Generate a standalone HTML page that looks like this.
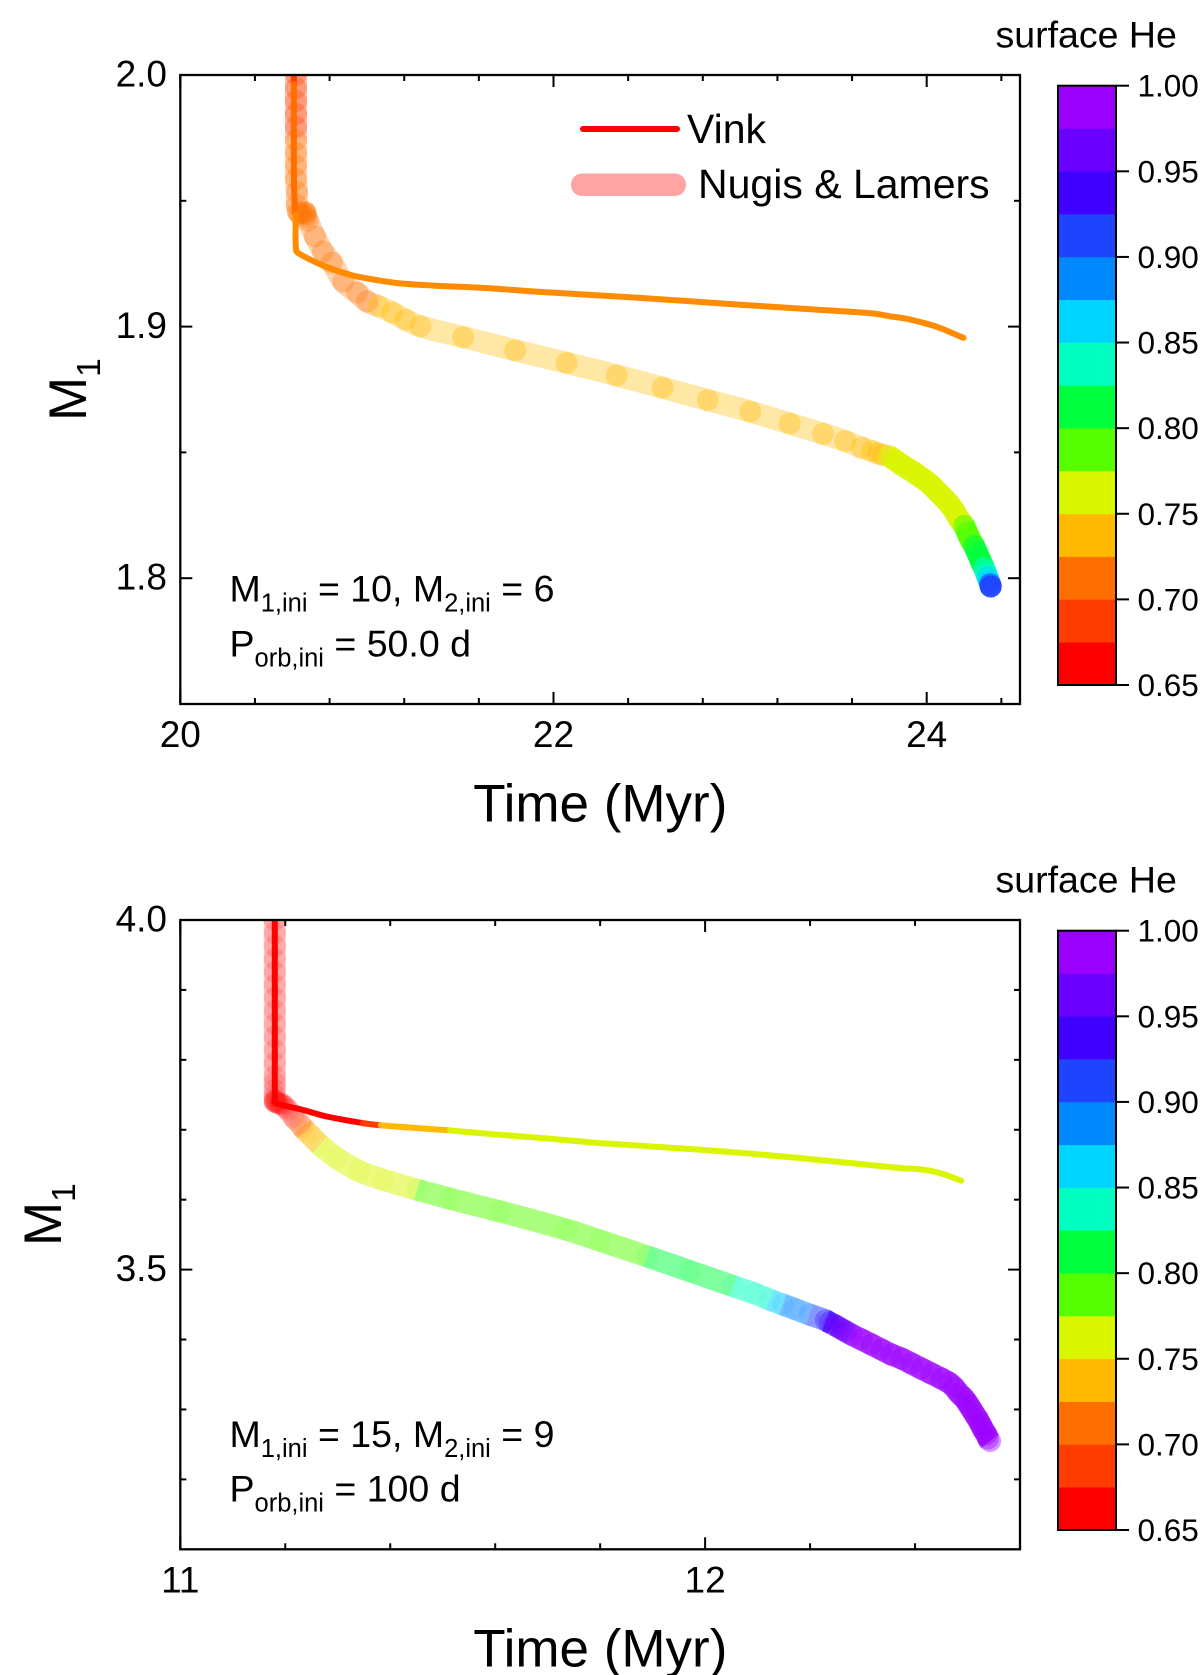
<!DOCTYPE html>
<html lang="en">
<head>
<meta charset="utf-8">
<title>Surface helium tracks</title>
<style>
html,body{margin:0;padding:0;background:#fff;}
svg{display:block;font-family:"Liberation Sans",Arial,sans-serif;fill:#000;}
</style>
</head>
<body>
<svg id="figure" xmlns="http://www.w3.org/2000/svg" width="1200" height="1675" viewBox="0 0 1200 1675">
  <defs>
    <clipPath id="clip-a"><rect x="180.3" y="75" width="839.7" height="629"/></clipPath>
    <clipPath id="clip-b"><rect x="180.3" y="920" width="839.7" height="629.3"/></clipPath>
  </defs>
  <rect width="1200" height="1675" fill="#fff"/>
  <g id="panel-a"></g>
  <g id="panel-b"></g>

  <g>
    <line x1="583" y1="129" x2="677" y2="129" stroke="#ff0000" stroke-width="6" stroke-linecap="round"/>
    <text x="687" y="143" font-size="41">Vink</text>
    <rect x="571" y="173.5" width="115" height="22.5" rx="11" fill="#ffa3a3"/>
    <text x="698" y="198" font-size="41">Nugis &amp; Lamers</text>
  </g>

  <text x="229.5" y="601.7" font-size="37.5">M<tspan dy="10" font-size="25.5">1,ini</tspan><tspan dy="-10"> = 10, M</tspan><tspan dy="10" font-size="25.5">2,ini</tspan><tspan dy="-10"> = 6</tspan></text>
  <text x="229.5" y="656.7" font-size="37.5">P<tspan dy="10" font-size="25.5">orb,ini</tspan><tspan dy="-10"> = 50.0 d</tspan></text>
  <text x="229.5" y="1447" font-size="37.5">M<tspan dy="10" font-size="25.5">1,ini</tspan><tspan dy="-10"> = 15, M</tspan><tspan dy="10" font-size="25.5">2,ini</tspan><tspan dy="-10"> = 9</tspan></text>
  <text x="229.5" y="1501.5" font-size="37.5">P<tspan dy="10" font-size="25.5">orb,ini</tspan><tspan dy="-10"> = 100 d</tspan></text>

  <text x="600.3" y="821.7" font-size="53" text-anchor="middle">Time (Myr)</text>
  <text x="600.3" y="1666.7" font-size="53" text-anchor="middle">Time (Myr)</text>
  <text transform="translate(86,421) rotate(-90)" font-size="53">M<tspan dy="14" font-size="33.5">1</tspan></text>
  <text transform="translate(61,1246) rotate(-90)" font-size="53">M<tspan dy="14" font-size="33.5">1</tspan></text>
  <text x="995.5" y="47.7" font-size="37.5">surface He</text>
  <text x="995.5" y="892.7" font-size="37.5">surface He</text>
</svg>

<script>
// Colour scale
const colorbarColors = ['#ff0000','#ff3d00','#ff6f00','#ffba00','#d9f500','#55ff00','#00ff3c','#00ffc0','#00d5ff','#0088ff','#1f44ff','#3f00ff','#6a00ff','#9a00ff'];
const colorbarTicks = [0.65,0.70,0.75,0.80,0.85,0.90,0.95,1.00];
const colorbarTickLabels = ['0.65','0.70','0.75','0.80','0.85','0.90','0.95','1.00'];

// Top panel axes
const topXMajor = [20,22,24];
const topXMajorLabels = ['20','22','24'];
const topXMinor = [20.4,20.8,21.2,21.6,22.4,22.8,23.2,23.6,24.4];
const topYMajor = [2.0,1.9,1.8];
const topYMajorLabels = ['2.0','1.9','1.8'];
const topYMinor = [1.95,1.85];

// Top panel Vink track
const topVinkTime = [20.609,20.609,20.609,20.615,
  20.618,20.620,20.636,20.767,20.910,21.018,21.162,21.357,21.624,21.928,22.464,23.000,23.357,23.714,23.803,23.893,23.982,24.071,24.197];
const topVinkMass = [2.0,1.9964,1.9600,1.9452,
  1.9444,1.9306,1.9290,1.9242,1.9206,1.9189,1.9173,1.9163,1.9154,1.9138,1.9114,1.9087,1.9070,1.9052,1.9041,1.9031,1.9015,1.8995,1.8955];
const topVinkHe = [0.69,0.705,0.705,0.705,
  0.72,0.72,0.72,0.72,0.72,0.72,0.72,0.72,0.72,0.72,0.72,0.72,0.72,0.72,0.72,0.72,0.72,0.72,0.72];

// Top panel Nugis & Lamers track
const topNugisTime = [20.620,20.620,20.620,20.620,20.620,
  20.620,20.620,20.620,20.620,20.625,20.625,
  20.631,20.641,20.657,20.668,20.673,20.673,20.684,
  20.722,20.765,20.812,20.873,20.947,21.001,
  21.063,21.136,21.207,21.287,21.516,21.795,22.071,22.338,22.585,22.827,23.054,23.266,23.444,23.563,23.651,23.707,23.739,23.766,
  23.798,23.832,23.864,23.896,23.928,23.960,23.992,24.019,24.046,24.072,24.099,24.126,24.153,24.174,
  24.201,24.217,24.233,
  24.254,24.270,24.286,24.297,
  24.308,24.318,
  24.326,24.334,
  24.340,24.343,24.343,24.343];
const topNugisMass = [2.0,1.9948,1.9897,1.9845,1.9794,
  1.9742,1.9690,1.9639,1.9587,1.9536,1.9484,
  1.9456,1.9448,1.9452,1.9456,1.9448,1.9437,1.9421,
  1.9358,1.9299,1.9254,1.9179,1.9135,1.9100,
  1.9081,1.9056,1.9028,1.9001,1.8958,1.8906,1.8856,1.8806,1.8757,1.8708,1.8662,1.8615,1.8574,1.8545,1.8519,1.8505,1.8496,1.8490,
  1.8485,1.8468,1.8452,1.8437,1.8422,1.8405,1.8389,1.8373,1.8353,1.8333,1.8313,1.8290,1.8262,1.8234,
  1.8208,1.8183,1.8155,
  1.8128,1.8103,1.8075,1.8056,
  1.8040,1.8020,
  1.8004,1.7988,
  1.7976,1.7967,1.7967,1.7967];
const topNugisHe = [0.69,0.69,0.69,0.69,0.69,
  0.71,0.71,0.71,0.71,0.71,0.71,
  0.71,0.71,0.71,0.71,0.71,0.71,0.71,
  0.71,0.71,0.71,0.71,0.71,0.71,
  0.74,0.74,0.74,0.74,0.74,0.74,0.74,0.74,0.74,0.74,0.74,0.74,0.74,0.74,0.74,0.74,0.74,0.74,
  0.76,0.76,0.76,0.76,0.76,0.76,0.76,0.76,0.76,0.76,0.76,0.76,0.76,0.76,
  0.785,0.785,0.785,
  0.81,0.81,0.81,0.81,
  0.835,0.835,
  0.86,0.86,
  0.91,0.91,0.91,0.91];

// Bottom panel axes
const bottomXMajor = [11,12];
const bottomXMajorLabels = ['11','12'];
const bottomXMinor = [11.2,11.4,11.6,11.8,12.2,12.4];
const bottomYMajor = [4.0,3.5];
const bottomYMajorLabels = ['4.0','3.5'];
const bottomYMinor = [3.9,3.8,3.7,3.6,3.4,3.3,3.2];

// Bottom panel Vink track
const bottomVinkTime = [11.180,11.180,11.180,11.180,11.228,11.279,
  11.348,
  11.382,
  11.514,11.609,11.705,11.800,11.991,12.180,12.371,12.417,12.455,12.488];
const bottomVinkMass = [4.0,3.76,3.745,3.7386,3.7296,3.7190,
  3.7096,
  3.7064,
  3.6990,3.6929,3.6871,3.6810,3.6714,3.6596,3.6453,3.6429,3.6364,3.6271];
const bottomVinkHe = [0.66,0.66,0.66,0.66,0.66,0.66,
  0.69,
  0.74,
  0.76,0.76,0.76,0.76,0.76,0.76,0.76,0.76,0.76,0.76];

// Bottom panel Nugis & Lamers track
const bottomNugisTime = [11.180,11.180,11.180,11.180,11.180,11.180,11.180,11.180,11.180,11.180,11.180,11.180,11.180,11.180,11.180,11.180,11.180,11.180,11.180,
  11.182,11.184,11.186,11.190,11.192,11.196,11.200,11.205,11.215,
  11.220,11.228,
  11.232,
  11.239,11.247,
  11.266,11.298,11.342,11.387,
  11.451,11.514,11.609,11.736,11.800,
  11.889,11.971,
  12.054,12.095,
  12.123,
  12.148,12.171,
  12.199,
  12.230,12.237,
  12.245,12.253,12.260,12.268,
  12.279,12.298,12.317,12.336,12.355,12.374,12.393,12.412,12.431,12.450,12.465,12.475,12.484,12.492,12.498,12.503,12.509,12.515,12.520,12.524,12.528,12.532,12.536,12.539,12.543];
const bottomNugisMass = [4.0,3.9814,3.9629,3.9443,3.9257,3.9071,3.8886,3.87,3.8514,3.8329,3.8143,3.7957,3.7771,3.7671,3.7571,3.7486,3.7429,3.7414,3.74,
  3.7405,3.7386,3.7385,3.7371,3.7365,3.7357,3.732,3.7286,3.7190,
  3.7143,3.7086,
  3.7043,
  3.6986,3.6929,
  3.6786,3.6596,3.6404,3.6286,
  3.6143,3.6014,3.5833,3.5571,3.5414,
  3.5190,3.4979,
  3.4761,3.4657,
  3.4571,
  3.45,3.4436,
  3.4357,
  3.4274,3.4243,
  3.4214,3.4180,3.4149,3.4117,
  3.4071,3.4,3.3929,3.3857,3.3786,3.3729,3.3657,3.3586,3.3514,3.3443,3.3381,3.3314,3.3229,3.3171,3.3114,3.3057,3.2986,3.2914,3.2857,3.28,3.2743,3.2686,3.2643,3.2586,3.2547];
const bottomNugisHe = [0.66,0.66,0.66,0.66,0.66,0.66,0.66,0.66,0.66,0.66,0.66,0.66,0.66,0.66,0.66,0.66,0.66,0.66,0.66,
  0.66,0.66,0.66,0.66,0.66,0.66,0.66,0.66,0.66,
  0.69,0.69,
  0.72,
  0.74,0.74,
  0.76,0.76,0.76,0.76,
  0.785,0.785,0.785,0.785,0.785,
  0.81,0.81,
  0.835,0.835,
  0.86,
  0.885,0.885,
  0.91,
  0.935,0.935,
  0.96,0.96,0.96,0.96,
  0.99,0.99,0.99,0.99,0.99,0.99,0.99,0.99,0.99,0.99,0.99,0.99,0.99,0.99,0.99,0.99,0.99,0.99,0.99,0.99,0.99,0.99,0.99,0.99,0.99];

const SVGNS = 'http://www.w3.org/2000/svg';
function make(tag, attrs, parent){
  const el = document.createElementNS(SVGNS, tag);
  for (const k in attrs) el.setAttribute(k, attrs[k]);
  parent.appendChild(el);
  return el;
}
function colorOf(he){
  const i = Math.min(colorbarColors.length - 1, Math.max(0, Math.floor((he - 0.65) / 0.025 + 1e-6)));
  return colorbarColors[i];
}
function lineColorOf(he){
  return (he >= 0.715 && he < 0.725) ? '#ff8c00' : colorOf(he);
}
// Smooth path through the points from index a to index b
function smoothPath(px, py, a, b){
  const unit = (dx, dy) => { const n = Math.hypot(dx, dy); return n > 0 ? [dx / n, dy / n] : [0, 0]; };
  let d = 'M' + px[a].toFixed(1) + ' ' + py[a].toFixed(1);
  for (let i = a; i < b; i++) {
    const p0 = Math.max(0, i - 1), p3 = Math.min(px.length - 1, i + 2), n = i + 1;
    const len = Math.hypot(px[n] - px[i], py[n] - py[i]) / 3;
    const u1 = unit(px[n] - px[p0], py[n] - py[p0]);
    const u2 = unit(px[p3] - px[i], py[p3] - py[i]);
    d += 'C' + (px[i] + u1[0] * len).toFixed(1) + ' ' + (py[i] + u1[1] * len).toFixed(1) + ' ' +
         (px[n] - u2[0] * len).toFixed(1) + ' ' + (py[n] - u2[1] * len).toFixed(1) + ' ' +
         px[n].toFixed(1) + ' ' + py[n].toFixed(1);
  }
  return d;
}

function drawPanel(cfg){
  const root = document.getElementById(cfg.rootId);
  const L = 180.3, R = 1020, T = cfg.top, B = cfg.bottom;
  const xOf = t => L + (t - cfg.xMin) / (cfg.xMax - cfg.xMin) * (R - L);
  const yOf = m => T + (cfg.yMax - m) / (cfg.yMax - cfg.yMin) * (B - T);

  const plot = make('g', {'clip-path': 'url(#' + cfg.clip + ')'}, root);
  
  

  // Nugis & Lamers band, one path per He level
  const nx = cfg.nugisTime.map(xOf), ny = cfg.nugisMass.map(yOf);
  let start = 0;
  for (let i = 1; i <= cfg.nugisHe.length; i++) {
    if (i === cfg.nugisHe.length || cfg.nugisHe[i] !== cfg.nugisHe[start]) {
      const band = make('path', {
        d: smoothPath(nx, ny, start, Math.min(i, cfg.nugisHe.length - 1)), fill: 'none', stroke: colorOf(cfg.nugisHe[start]),
        'stroke-width': 22, 'stroke-linejoin': 'round',
        'stroke-opacity': cfg.bandAlpha(cfg.nugisHe[start])
      }, plot);
      
      
      start = i;
    }
  }
  // Nugis & Lamers markers
  cfg.nugisTime.forEach((t, i) => {
    const dot = make('circle', {
      cx: nx[i].toFixed(1), cy: ny[i].toFixed(1), r: 11,
      fill: colorOf(cfg.nugisHe[i]), 'fill-opacity': cfg.dotAlpha(cfg.nugisHe[i])
    }, plot);
    
    
  });
  // Vink line, one path per He level
  const vx = cfg.vinkTime.map(xOf), vy = cfg.vinkMass.map(yOf);
  start = 0;
  for (let i = 1; i <= cfg.vinkHe.length; i++) {
    if (i === cfg.vinkHe.length || cfg.vinkHe[i] !== cfg.vinkHe[start]) {
      const seg = make('path', {
        d: smoothPath(vx, vy, start, Math.min(i, cfg.vinkHe.length - 1)), fill: 'none', stroke: lineColorOf(cfg.vinkHe[start]),
        'stroke-width': 6, 'stroke-linejoin': 'round', 'stroke-linecap': 'round'
      }, plot);
      
      
      start = i;
    }
  }

  // Frame
  const frame = make('rect', {x: L, y: T, width: R - L, height: B - T, fill: 'none', stroke: '#000', 'stroke-width': 2.3}, root);
  
  

  // Ticks on all four sides
  function tickX(t, len, name){
    const x = xOf(t);
    const a = make('line', {x1: x, x2: x, y1: B, y2: B - len, stroke: '#000', 'stroke-width': 2}, root);
    
    
    const b = make('line', {x1: x, x2: x, y1: T, y2: T + len, stroke: '#000', 'stroke-width': 2}, root);
    
    
  }
  function tickY(m, len, name){
    const y = yOf(m);
    const a = make('line', {x1: L, x2: L + len, y1: y, y2: y, stroke: '#000', 'stroke-width': 2}, root);
    
    
    const b = make('line', {x1: R, x2: R - len, y1: y, y2: y, stroke: '#000', 'stroke-width': 2}, root);
    
    
  }
  cfg.xMinor.forEach(t => tickX(t, 6, 'x-minor-tick'));
  cfg.yMinor.forEach(m => tickY(m, 6, 'y-minor-tick'));
  cfg.xMajor.forEach((t, i) => {
    tickX(t, 12, 'x-major-tick');
    const lab = make('text', {x: xOf(t), y: B + 43, 'font-size': 37, 'text-anchor': 'middle'}, root);
    lab.textContent = cfg.xLabels[i];
    
    
  });
  cfg.yMajor.forEach((m, i) => {
    tickY(m, 12, 'y-major-tick');
    const lab = make('text', {x: 167, y: yOf(m) + 11.5, 'font-size': 37, 'text-anchor': 'end'}, root);
    lab.textContent = cfg.yLabels[i];
    
    
  });

  // Colour bar
  const cbTop = T + 10.7, cbBottom = T + 610, cbL = 1058, cbR = 1116;
  const cbY = he => cbBottom - (he - 0.65) / 0.35 * (cbBottom - cbTop);
  colorbarColors.forEach((c, i) => {
    const he0 = 0.65 + i * 0.025;
    const y1 = cbY(he0 + 0.025), y0 = cbY(he0);
    const cell = make('rect', {x: cbL, y: y1, width: cbR - cbL, height: y0 - y1 + 0.3, fill: c}, root);
    
    
  });
  const cbFrame = make('rect', {x: cbL, y: cbTop, width: cbR - cbL, height: cbBottom - cbTop, fill: 'none', stroke: '#000', 'stroke-width': 2}, root);
  
  
  colorbarTicks.forEach((he, i) => {
    const y = cbY(he);
    const tk = make('line', {x1: cbR, x2: 1129, y1: y, y2: y, stroke: '#000', 'stroke-width': 2}, root);
    
    
    const lab = make('text', {x: 1137.5, y: y + 11, 'font-size': 31.5}, root);
    lab.textContent = colorbarTickLabels[i];
    
    
  });
}

drawPanel({
  rootId: 'panel-a', clip: 'clip-a', top: 75, bottom: 704,
  xMin: 20, xMax: 24.5, yMin: 1.75, yMax: 2.0,
  xMajor: topXMajor, xLabels: topXMajorLabels, xMinor: topXMinor,
  yMajor: topYMajor, yLabels: topYMajorLabels, yMinor: topYMinor,
  vinkTime: topVinkTime, vinkMass: topVinkMass, vinkHe: topVinkHe,
  nugisTime: topNugisTime, nugisMass: topNugisMass, nugisHe: topNugisHe,
  bandAlpha: he => he >= 0.75 ? 0.85 : (he < 0.725 ? 0.3 : 0.35),
  dotAlpha: he => he >= 0.75 ? 0.6 : (he < 0.725 ? 0.3 : 0.35)
});
drawPanel({
  rootId: 'panel-b', clip: 'clip-b', top: 920, bottom: 1549.3,
  xMin: 11, xMax: 12.6, yMin: 3.1, yMax: 4.0,
  xMajor: bottomXMajor, xLabels: bottomXMajorLabels, xMinor: bottomXMinor,
  yMajor: bottomYMajor, yLabels: bottomYMajorLabels, yMinor: bottomYMinor,
  vinkTime: bottomVinkTime, vinkMass: bottomVinkMass, vinkHe: bottomVinkHe,
  nugisTime: bottomNugisTime, nugisMass: bottomNugisMass, nugisHe: bottomNugisHe,
  bandAlpha: he => he >= 0.925 ? 0.75 : (he < 0.7 ? 0.22 : 0.5),
  dotAlpha: he => he >= 0.975 ? 0.4 : (he >= 0.925 ? 0.3 : (he < 0.7 ? 0.15 : 0.1))
});
</script>
</body>
</html>
